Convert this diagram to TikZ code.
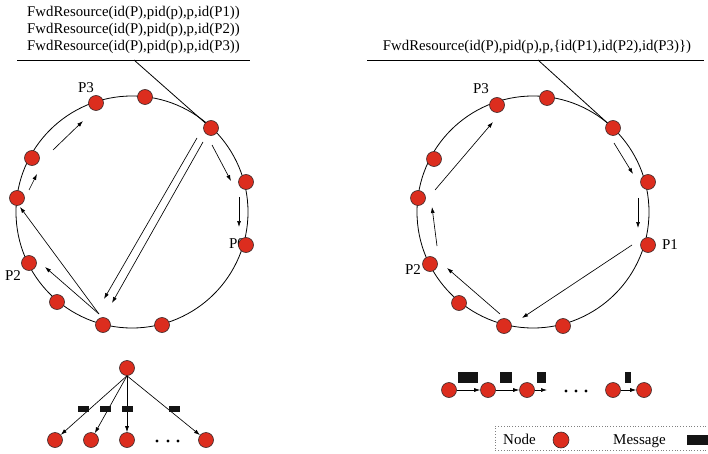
\documentclass[tikz,border=0pt]{standalone}
\usepackage{fontspec}
\setmainfont{Liberation Serif}
\usetikzlibrary{arrows.meta}
\definecolor{nodered}{RGB}{220,45,30}
\definecolor{msgblack}{RGB}{20,20,20}
\tikzset{
  pnode/.style={circle,fill=nodered,draw={rgb,255:red,60;green,40;blue,40},line width=0.6pt,minimum size=15pt,inner sep=0pt},
  lnode/.style={circle,fill=nodered,draw={rgb,255:red,60;green,40;blue,40},line width=0.6pt,minimum size=16pt,inner sep=0pt},
  msg/.style={fill=msgblack,draw=none,inner sep=0pt},
  arr/.style={line width=0.65pt,-{Latex[length=6pt,width=4pt]}},
  ring/.style={line width=0.8pt},
  txt/.style={font=\fontsize{14.8}{17}\selectfont,inner sep=0pt},
  lbl/.style={font=\fontsize{15}{17}\selectfont,inner sep=0pt},
}
\begin{document}
\begin{tikzpicture}[x=1pt,y=-1pt]
\useasboundingbox (0,0) rectangle (708,454);

% ---------- Left panel ----------
\node[txt,align=center] (ltext) at (133.5,30) {FwdResource(id(P),pid(p),p,id(P1))\\FwdResource(id(P),pid(p),p,id(P2))\\FwdResource(id(P),pid(p),p,id(P3))};
\coordinate (lu1) at (17,60);
\coordinate (lu2) at (250,60);
\coordinate (lp) at (134,60);
\draw[line width=0.8pt] (lu1) -- (lu2);
\draw[ring] (132,212) circle[radius=116pt];

\node[lbl] (lP3) at (86,88) {P3};
\node[lbl] (lP2) at (13,276) {P2};
\node[lbl] (lP0) at (237,244) {P0};

\node[pnode] (a1) at (96,103) {};
\node[pnode] (a2) at (145,97) {};
\node[pnode] (a3) at (211,128) {};
\node[pnode] (a4) at (32,158) {};
\node[pnode] (a5) at (17,198) {};
\node[pnode] (a6) at (29,263) {};
\node[pnode] (a7) at (57,302) {};
\node[pnode] (a8) at (103,325) {};
\node[pnode] (a9) at (162,325) {};
\node[pnode] (a10) at (246,182) {};
\node[pnode] (a11) at (246,245) {};
\draw[line width=0.8pt] (lp) -- (a3);

\coordinate (la1) at (53,150);  \coordinate (la2) at (83,121);
\coordinate (lb1) at (29,190);  \coordinate (lb2) at (37,174);
\coordinate (lc1) at (99,314);  \coordinate (lc2) at (20,207);
\coordinate (ld2) at (45,267);
\coordinate (le1) at (197,138); \coordinate (le2) at (104,299);
\coordinate (lf1) at (203,142); \coordinate (lf2) at (112,303);
\coordinate (lg1) at (212,145); \coordinate (lg2) at (231,181);
\coordinate (lh1) at (239,197); \coordinate (lh2) at (239,227);
\draw[arr] (la1) -- (la2);
\draw[arr] (lb1) -- (lb2);
\draw[arr] (lc1) -- (lc2);
\draw[arr] (lc1) -- (ld2);
\draw[arr] (le1) -- (le2);
\draw[arr] (lf1) -- (lf2);
\draw[arr] (lg1) -- (lg2);
\draw[arr] (lh1) -- (lh2);

% ---------- Right panel ----------
\node[txt] (rtext) at (537,47) {FwdResource(id(P),pid(p),p,\{id(P1),id(P2),id(P3)\})};
\coordinate (ru1) at (367,60);
\coordinate (ru2) at (704,60);
\coordinate (rp) at (538,60);
\draw[line width=0.8pt] (ru1) -- (ru2);
\draw[ring] (533,212) circle[radius=116pt];

\node[lbl] (rP3) at (481,89) {P3};
\node[lbl] (rP2) at (413,270) {P2};
\node[lbl] (rP1) at (670,245) {P1};

\node[pnode] (b1) at (497,105) {};
\node[pnode] (b2) at (547,98) {};
\node[pnode] (b3) at (613,128) {};
\node[pnode] (b4) at (434,159) {};
\node[pnode] (b5) at (418,198) {};
\node[pnode] (b6) at (430,264) {};
\node[pnode] (b7) at (459,303) {};
\node[pnode] (b8) at (504,326) {};
\node[pnode] (b9) at (563,326) {};
\node[pnode] (b10) at (648,182) {};
\node[pnode] (b11) at (648,245) {};
\draw[line width=0.8pt] (rp) -- (b3);

\coordinate (ra1) at (435,190); \coordinate (ra2) at (493,122);
\coordinate (rb1) at (437,246); \coordinate (rb2) at (432,207);
\coordinate (rc1) at (500,314); \coordinate (rc2) at (447,268);
\coordinate (rd1) at (632,245); \coordinate (rd2) at (522,318);
\coordinate (re1) at (614,143); \coordinate (re2) at (633,174);
\coordinate (rf1) at (638,198); \coordinate (rf2) at (638,228);
\draw[arr] (ra1) -- (ra2);
\draw[arr] (rb1) -- (rb2);
\draw[arr] (rc1) -- (rc2);
\draw[arr] (rd1) -- (rd2);
\draw[arr] (re1) -- (re2);
\draw[arr] (rf1) -- (rf2);

% ---------- Tree (bottom left) ----------
\node[pnode] (t0) at (127,368) {};
\node[pnode] (t1) at (55,440) {};
\node[pnode] (t2) at (91,440) {};
\node[pnode] (t3) at (127,440) {};
\node[pnode] (t4) at (206,440) {};
\draw[arr] (t0.south) -- (t1);
\draw[arr] (t0.south) -- (t2);
\draw[arr] (t0.south) -- (t3);
\draw[arr] (t0.south) -- (t4);
\node[msg,minimum width=11pt,minimum height=6pt] (m1) at (83,409) {};
\node[msg,minimum width=11pt,minimum height=6pt] (m2) at (105,409) {};
\node[msg,minimum width=11pt,minimum height=6pt] (m3) at (127,409) {};
\node[msg,minimum width=11pt,minimum height=6pt] (m4) at (174,409) {};
\fill (157,441) circle[radius=1.6pt];
\fill (168,441) circle[radius=1.6pt];
\fill (178,441) circle[radius=1.6pt];

% ---------- Chain (bottom right) ----------
\node[pnode] (c1) at (449,390) {};
\node[pnode] (c2) at (488,390) {};
\node[pnode] (c3) at (527,390) {};
\node[pnode] (c4) at (613,390) {};
\node[pnode] (c5) at (644,390) {};
\coordinate (c3e) at (547,390);
\draw[arr] (c1) -- (c2);
\draw[arr] (c2) -- (c3);
\draw[arr] (c3) -- (c3e);
\draw[arr] (c4) -- (c5);
\node[msg,minimum width=20pt,minimum height=11pt] (n1) at (468,377.5) {};
\node[msg,minimum width=12pt,minimum height=11pt] (n2) at (506,377.5) {};
\node[msg,minimum width=9pt,minimum height=11pt] (n3) at (541.5,377.5) {};
\node[msg,minimum width=6pt,minimum height=11pt] (n4) at (628,377.5) {};
\fill (566,391) circle[radius=1.6pt];
\fill (576,391) circle[radius=1.6pt];
\fill (586,391) circle[radius=1.6pt];

% ---------- Legend ----------
\node[draw=gray,dotted,line width=0.8pt,minimum width=218pt,minimum height=24pt,anchor=north west,inner sep=0pt] (legend) at (495,426) {};
\node[lbl,anchor=base west] (lgnode) at (503,444) {Node};
\node[lnode] (lgcirc) at (561,440) {};
\node[lbl,anchor=base west] (lgmsg) at (613,444) {Message};
\node[msg,minimum width=24pt,minimum height=10pt,anchor=west] (lgrect) at (687,440) {};
\end{tikzpicture}
\end{document}
